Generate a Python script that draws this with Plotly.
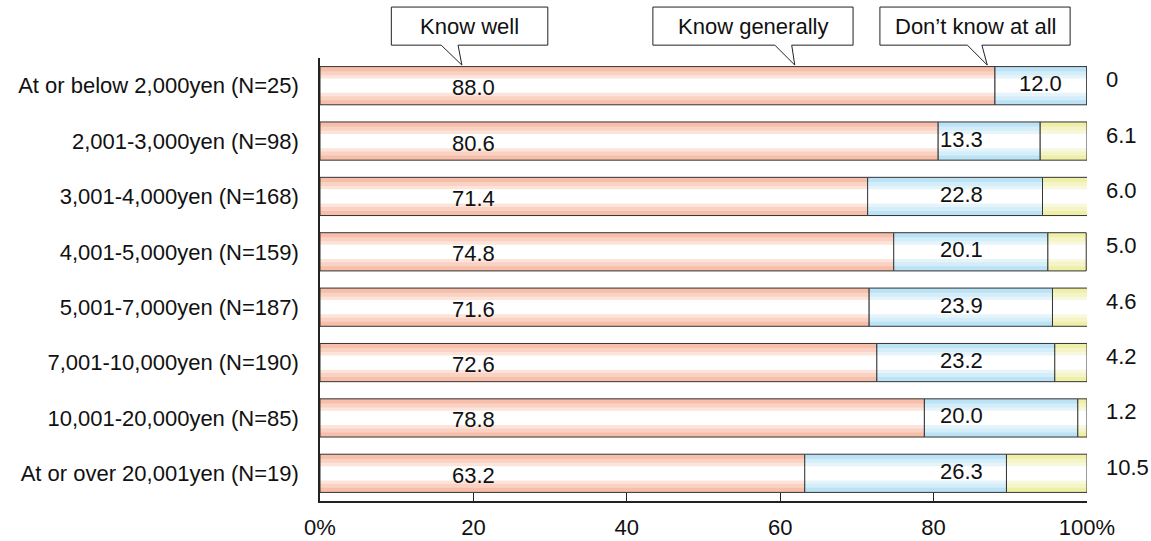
import plotly.graph_objects as go

categories = [
    "At or below 2,000yen (N=25)",
    "2,001-3,000yen (N=98)",
    "3,001-4,000yen (N=168)",
    "4,001-5,000yen (N=159)",
    "5,001-7,000yen (N=187)",
    "7,001-10,000yen (N=190)",
    "10,001-20,000yen (N=85)",
    "At or over 20,001yen (N=19)",
]
know_well = [88.0, 80.6, 71.4, 74.8, 71.6, 72.6, 78.8, 63.2]
know_generally = [12.0, 13.3, 22.8, 20.1, 23.9, 23.2, 20.0, 26.3]
dont_know = [0, 6.1, 6.0, 5.0, 4.6, 4.2, 1.2, 10.5]
series_names = ["Know well", "Know generally", "Don\u2019t know at all"]
x_tickvals = [0, 20, 40, 60, 80, 100]
x_ticktext = ["0%", "20", "40", "60", "80", "100%"]

FONT = "Liberation Sans, Arial, sans-serif"
FS = 22
BAR_W = 0.69
layers = [1.0, 0.76, 0.55, 0.37]
palettes = [
    ["#F7BEA9", "#FAD2C3", "#FCE4DA", "#FFFFFF"],
    ["#BBE2F5", "#D3EDF9", "#E5F4FB", "#FFFFFF"],
    ["#EFEFA8", "#F4F4C6", "#F8F8DE", "#FFFFFF"],
]

series = [know_well, know_generally, dont_know]
bases = []
run = [0.0] * len(categories)
for s in series:
    bases.append(list(run))
    run = [r + v for r, v in zip(run, s)]

fig = go.Figure()
for si, s in enumerate(series):
    for li, frac in enumerate(layers):
        fig.add_trace(go.Bar(
            y=categories, x=s, base=bases[si], orientation="h",
            width=BAR_W * frac,
            marker=dict(color=palettes[si][li], line=dict(width=0)),
            showlegend=False, hoverinfo="skip",
        ))
    fig.add_trace(go.Bar(
        y=categories, x=s, base=bases[si], orientation="h",
        width=BAR_W,
        marker=dict(color="rgba(0,0,0,0)", line=dict(color="#333333", width=1)),
        name=series_names[si], showlegend=False,
    ))

annotations = []
for i, cat in enumerate(categories):
    annotations.append(dict(x=20, y=cat, xref="x", yref="y", text=f"{know_well[i]:.1f}",
                            showarrow=False, font=dict(family=FONT, size=FS, color="#111"),
                            xanchor="center", yanchor="middle", yshift=-2))
    start = bases[1][i]
    bx = start + know_generally[i] / 2 if start > 83 else 83.6
    annotations.append(dict(x=bx, y=cat, xref="x", yref="y", text=f"{know_generally[i]:.1f}",
                            showarrow=False, font=dict(family=FONT, size=FS, color="#111"),
                            xanchor="center", yanchor="middle", yshift=2))
    dk = dont_know[i]
    annotations.append(dict(x=1.022, y=cat, xref="paper", yref="y",
                            text=("0" if dk == 0 else f"{dk:.1f}"), xanchor="left",
                            yanchor="middle",
                            showarrow=False, font=dict(family=FONT, size=FS, color="#111"),
                            yshift=6))

# callouts (paper coordinates)
callouts = [
    (0.093, 0.297, 0.158, 0.180, 0.185),
    (0.434, 0.695, 0.593, 0.615, 0.619),
    (0.730, 0.978, 0.844, 0.863, 0.870),
]
yt, yb, ytip = 1.115, 1.029, 0.984
shapes = []
for (x0, x1, p0, p1, tip), name in zip(callouts, series_names):
    path = (f"M {x0},{yt} L {x1},{yt} L {x1},{yb} L {p1},{yb} L {tip},{ytip} "
            f"L {p0},{yb} L {x0},{yb} Z")
    shapes.append(dict(type="path", path=path, xref="paper", yref="paper",
                       fillcolor="white", line=dict(color="#222", width=1)))
    annotations.append(dict(x=(x0 + x1) / 2, y=(yt + yb) / 2, xref="paper", yref="paper",
                            text=name, showarrow=False, xanchor="center", yanchor="middle",
                            font=dict(family=FONT, size=FS, color="#111")))

fig.update_layout(
    barmode="overlay",
    width=1151, height=541,
    margin=dict(l=320, r=64, t=58, b=40, autoexpand=False),
    paper_bgcolor="white", plot_bgcolor="white",
    font=dict(family=FONT, size=FS, color="#111"),
    annotations=annotations, shapes=shapes,
    xaxis=dict(range=[0, 100], tickvals=x_tickvals, ticktext=x_ticktext,
               showgrid=False, zeroline=False, showline=True, linecolor="#222",
               linewidth=1.5, ticks="inside", ticklen=8, tickcolor="#222",
               ticklabelstandoff=6, automargin=False, fixedrange=True),
    yaxis=dict(type="category", range=[7.5, -0.5], showgrid=False, zeroline=False,
               showline=True, linecolor="#222", linewidth=1.5, ticks="",
               ticklabelstandoff=15, automargin=False, fixedrange=True),
)

fig.write_html("out.html", config={"displayModeBar": False},
               post_script="document.body.style.margin='0px';")
